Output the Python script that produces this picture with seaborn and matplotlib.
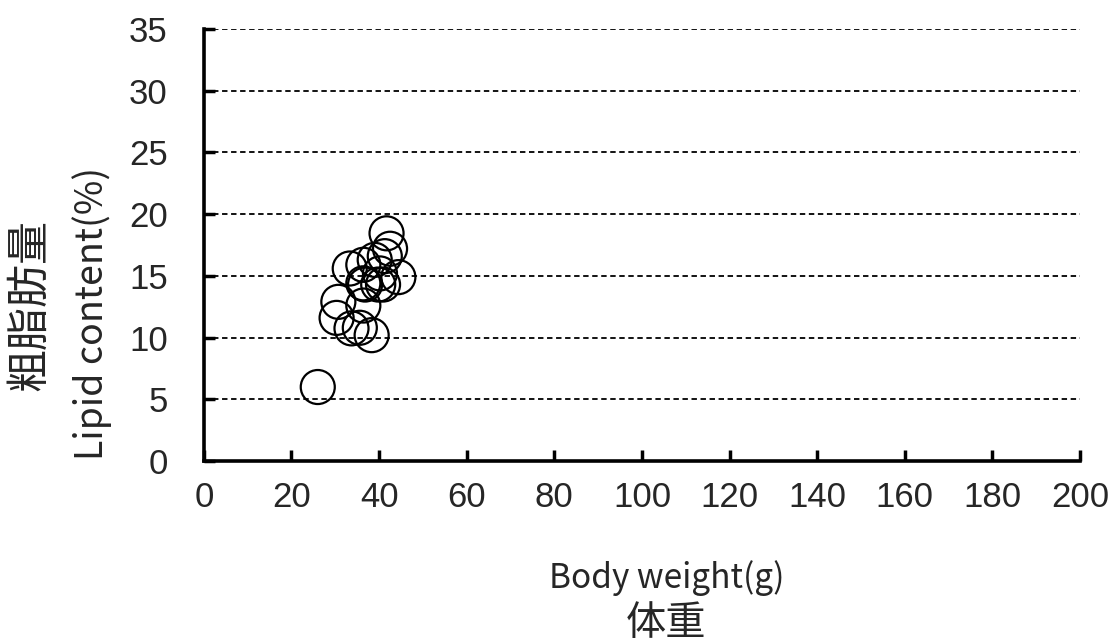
import matplotlib
matplotlib.use("Agg")
import matplotlib.pyplot as plt
import seaborn as sns

# body weight (g) and lipid content (%)
body_weight = [26.0, 30.3, 30.7, 33.7, 35.6, 38.3, 36.4, 36.8, 39.8, 36.4,
               40.9, 40.2, 44.4, 33.3, 36.4, 39.0, 41.3, 42.5, 41.7]
lipid = [6.0, 11.6, 12.9, 10.75, 10.8, 10.2, 12.6, 14.3, 14.3, 14.4,
         14.3, 15.2, 14.9, 15.6, 15.9, 16.3, 16.6, 17.2, 18.45]

x_ticks = [0, 20, 40, 60, 80, 100, 120, 140, 160, 180, 200]
y_ticks = [0, 5, 10, 15, 20, 25, 30, 35]

sns.set_style("white")
plt.rcParams["font.family"] = ["Liberation Sans", "Noto Sans CJK JP", "DejaVu Sans"]

fig = plt.figure(figsize=(11.14, 6.44), dpi=100)
ax = fig.add_axes([0.183, 0.284, 0.7865, 0.671])

# dashed grid lines
for yv in y_ticks[1:]:
    ax.axhline(yv, color="black", lw=1.3, ls=(0, (3, 2)), zorder=0)

sns.scatterplot(x=body_weight, y=lipid, ax=ax, s=600, facecolor="none",
                edgecolor="black", linewidth=1.6, zorder=3, clip_on=False)

ax.set_xlim(0, 200)
ax.set_ylim(0, 35)
ax.set_xticks(x_ticks)
ax.set_yticks(y_ticks)
ax.tick_params(axis="both", direction="in", length=8, width=2.5,
               labelsize=25, color="black", bottom=True, left=True)
ax.tick_params(axis="x", pad=14)
ax.tick_params(axis="y", pad=26)

for side in ["top", "right"]:
    ax.spines[side].set_visible(False)
for side in ["left", "bottom"]:
    ax.spines[side].set_linewidth(2.6)
    ax.spines[side].set_color("black")

jp = ["Noto Sans CJK JP", "DejaVu Sans"]
fig.text(667 / 1114, 1 - 578 / 644, "Body weight(g)", ha="center", va="center",
         fontsize=24, family=jp)
fig.text(666 / 1114, 1 - 624 / 644, "体重", ha="center", va="center",
         fontsize=29, family=jp)
fig.text(92 / 1114, 1 - 313 / 644, "Lipid content(%)", ha="center", va="center",
         rotation=90, fontsize=27, family=jp)
fig.text(30 / 1114, 1 - 305 / 644, "粗脂肪量", ha="center", va="center",
         rotation=90, fontsize=31, family=jp)

fig.savefig("out.png", dpi=100)
